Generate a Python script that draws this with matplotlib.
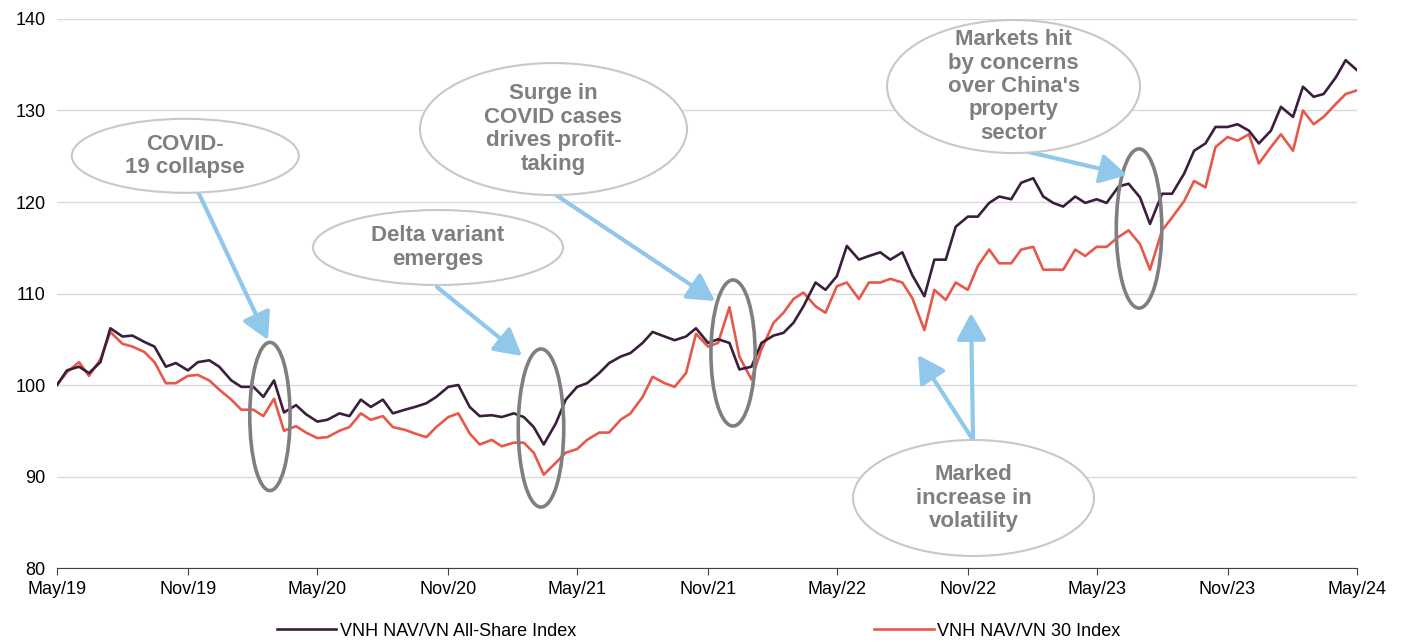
import matplotlib
matplotlib.use('Agg')
from matplotlib import pyplot as plt
from matplotlib.patches import Ellipse
import matplotlib.dates as mdates
import numpy as np
import pandas as pd

plt.rcParams['font.family'] = ['Liberation Sans', 'DejaVu Sans']

# semi-monthly readings, May 2019 - May 2024
dates = pd.date_range('2019-05-01', '2024-05-01', freq='SMS')

all_share = [
    100.0, 101.6, 102.0, 101.3, 102.5, 106.2, 105.3, 105.4, 104.7, 104.2,
    102.0, 102.4, 101.6, 102.5, 102.7, 102.0, 100.5, 99.8, 99.8, 98.7,
    100.5, 97.0, 97.8, 96.8, 96.0, 96.2, 96.9, 96.6, 98.4, 97.6,
    98.4, 96.9, 97.3, 97.6, 98.0, 98.7, 99.8, 100.0, 97.6, 96.6,
    96.7, 96.5, 96.9, 96.5, 95.4, 93.5, 95.8, 98.4, 99.8, 100.2,
    101.3, 102.4, 103.1, 103.5, 104.6, 105.8, 105.3, 104.9, 105.3, 106.2,
    104.6, 105.0, 104.6, 101.7, 102.0, 104.6, 105.4, 105.7, 106.8, 108.6,
    111.2, 110.4, 111.9, 115.2, 113.7, 114.1, 114.5, 113.7, 114.5, 112.0,
    109.7, 113.7, 113.7, 117.3, 118.4, 118.4, 119.9, 120.6, 120.3, 122.1,
    122.6, 120.6, 119.9, 119.5, 120.6, 119.9, 120.3, 119.9, 121.7, 122.0,
    120.5, 117.6, 120.9, 120.9, 123.1, 125.6, 126.4, 128.2, 128.2, 128.5,
    127.8, 126.4, 127.8, 130.4, 129.3, 132.6, 131.5, 131.8, 133.6, 135.5,
    134.4,
]

vn30 = [
    100.0, 101.4, 102.5, 101.0, 102.8, 105.8, 104.5, 104.2, 103.6, 102.5,
    100.2, 100.2, 101.0, 101.1, 100.5, 99.5, 98.4, 97.3, 97.3, 96.6,
    98.5, 95.0, 95.5, 94.8, 94.2, 94.3, 95.0, 95.4, 96.9, 96.2,
    96.6, 95.4, 95.1, 94.7, 94.3, 95.4, 96.5, 96.9, 94.7, 93.5,
    94.0, 93.3, 93.7, 93.7, 92.6, 90.2, 91.5, 92.6, 93.0, 94.0,
    94.8, 94.8, 96.2, 96.9, 98.7, 100.9, 100.2, 99.8, 101.3, 105.6,
    104.2, 104.6, 108.5, 103.1, 100.6, 103.9, 106.8, 107.9, 109.4, 110.1,
    108.6, 107.9, 110.8, 111.2, 109.4, 111.2, 111.2, 111.6, 111.2, 109.5,
    106.0, 110.4, 109.3, 111.2, 110.4, 113.0, 114.8, 113.3, 113.3, 114.8,
    115.1, 112.6, 112.6, 112.6, 114.8, 114.1, 115.1, 115.1, 116.2, 116.9,
    115.4, 112.6, 116.9, 118.3, 120.1, 122.3, 121.6, 126.0, 127.1, 126.7,
    127.4, 124.2, 126.0, 127.4, 125.6, 130.0, 128.5, 129.3, 130.7, 131.8,
    132.2,
]

series_labels = ['VNH NAV/VN All-Share Index', 'VNH NAV/VN 30 Index']

fig = plt.figure(figsize=(14.07, 6.44), dpi=100)
ax = fig.add_axes([0.0405, 0.118, 0.924, 0.8525])

ax.plot(dates, all_share, color='#3a1f3d', lw=1.9, label=series_labels[0], zorder=3)
ax.plot(dates, vn30, color='#e8584a', lw=1.9, label=series_labels[1], zorder=2)

ax.set_ylim(80, 140)
ax.set_yticks(np.arange(80, 141, 10))
ax.set_xlim(pd.Timestamp('2019-05-01'), pd.Timestamp('2024-05-01'))
ax.xaxis.set_major_locator(mdates.MonthLocator(bymonth=[5, 11]))
ax.xaxis.set_major_formatter(mdates.DateFormatter('%b/%y'))

ax.grid(axis='y', color='#d9d9d9', lw=1)
ax.set_axisbelow(True)
for s in ['top', 'right', 'left']:
    ax.spines[s].set_visible(False)
ax.spines['bottom'].set_color('#404040')
ax.tick_params(axis='y', length=0, labelsize=13, pad=8)
ax.tick_params(axis='x', length=5, color='#404040', labelsize=13, pad=4)

# gray circles round the events
event_rings = [(0.1638, 0.276, 0.031, 0.27),
               (0.3723, 0.255, 0.035, 0.288),
               (0.52, 0.3916, 0.034, 0.266),
               (0.8323, 0.6184, 0.035, 0.29)]
for cx, cy, w, h in event_rings:
    ax.add_patch(Ellipse((cx, cy), w, h, transform=ax.transAxes, fill=False,
                         ec='#7f7f7f', lw=2.6, zorder=5, clip_on=False))

# arrows
arrow_kw = dict(arrowstyle='-|>,head_length=0.9,head_width=0.5', color='#8fc8ea',
                lw=3, shrinkA=0, shrinkB=0, mutation_scale=18)
arrows = [((0.0992, 0.7322), (0.1623, 0.4153)),
          ((0.2923, 0.5118), (0.3577, 0.3862)),
          ((0.3815, 0.6831), (0.5062, 0.4863)),
          ((0.7408, 0.7614), (0.8231, 0.7158)),
          ((0.7046, 0.2332), (0.6623, 0.388)),
          ((0.7046, 0.2332), (0.7031, 0.4645))]
for tail, head in arrows:
    ax.annotate('', xy=head, xytext=tail, xycoords='axes fraction',
                textcoords='axes fraction', arrowprops=arrow_kw, zorder=6)

# text bubbles
bubbles = [('COVID-\n19 collapse', 0.0987, 0.7508, 0.1746, 0.1348),
           ('Delta variant\nemerges', 0.2931, 0.5838, 0.1923, 0.1366),
           ('Surge in\nCOVID cases\ndrives profit-\ntaking', 0.3819, 0.7996, 0.2054, 0.2404),
           ("Markets hit\nby concerns\nover China's\nproperty\nsector", 0.7358, 0.877, 0.1946, 0.2423),
           ('Marked\nincrease in\nvolatility', 0.705, 0.1275, 0.1854, 0.2113)]
for txt, cx, cy, w, h in bubbles:
    ax.add_patch(Ellipse((cx, cy), w, h, transform=ax.transAxes, fc='white',
                         ec='#c8c8c8', lw=1.5, zorder=7, clip_on=False))
    ax.text(cx, cy, txt, transform=ax.transAxes, ha='center', va='center',
            fontsize=16, fontweight='bold', color='#7f7f7f', linespacing=1.15,
            zorder=8)

fig.legend(loc='center', bbox_to_anchor=(0.4965, 0.02), ncol=2, frameon=False,
           fontsize=13, handlelength=3.3, handletextpad=0.2, columnspacing=16.5)

fig.savefig('out.png', dpi=100)
